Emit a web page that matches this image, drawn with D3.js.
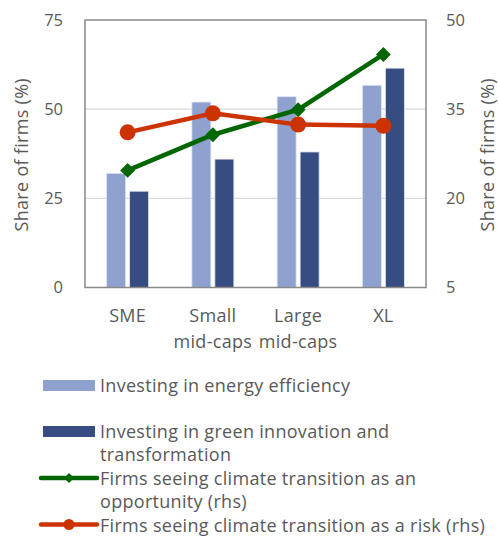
<!DOCTYPE html>
<html><head><meta charset="utf-8">
<script src="https://cdn.jsdelivr.net/npm/d3@7"></script>
<style>body{margin:0;background:#fff}svg{display:block}text{font-family:"Open Sans",sans-serif;fill:#595959}</style>
</head><body>
<svg id="c" width="499" height="540"></svg>
<script>
const categories = [["SME"],["Small","mid-caps"],["Large","mid-caps"],["XL"]];
const energyEfficiency = [32, 52, 53.5, 56.7];
const greenInnovation = [27, 36, 38, 61.5];
const opportunity = [24.7, 30.7, 34.9, 44.2];
const risk = [31.1, 34.3, 32.4, 32.2];
const leftTicks = [0, 25, 50, 75];
const rightTicks = [5, 20, 35, 50];
const seriesNames = ["Investing in energy efficiency", ["Investing in green innovation and","transformation"], ["Firms seeing climate transition as an","opportunity (rhs)"], "Firms seeing climate transition as a risk (rhs)"];

const cLight = "#8fa2cf", cDark = "#374c80", cGreen = "#006600", cRed = "#cc3300";
const svg = d3.select("#c");
const L = 85, R = 426, T = 20, B = 287.5;
const x = d3.scaleBand().domain(d3.range(4)).range([L, R]);
const yl = d3.scaleLinear().domain([0, 75]).range([B, T]);
const yr = d3.scaleLinear().domain([5, 50]).range([B, T]);

svg.append("g").selectAll("line").data([25, 50]).join("line")
  .attr("x1", L).attr("x2", R).attr("y1", d => yl(d)).attr("y2", d => yl(d))
  .attr("stroke", "#d9d9d9").attr("stroke-width", 1.2);

const bw = 19, gap = 4;
const bars = svg.append("g");
bars.selectAll(".b1").data(energyEfficiency).join("rect")
  .attr("x", (d, i) => x(i) + x.bandwidth() / 2 - gap / 2 - bw)
  .attr("y", d => yl(d)).attr("width", bw).attr("height", d => B - yl(d))
  .attr("fill", cLight).attr("stroke", "#dfe5f2").attr("stroke-width", 0.8);
bars.selectAll(".b2").data(greenInnovation).join("rect")
  .attr("x", (d, i) => x(i) + x.bandwidth() / 2 + gap / 2)
  .attr("y", d => yl(d)).attr("width", bw).attr("height", d => B - yl(d))
  .attr("fill", cDark).attr("stroke", "#dfe5f2").attr("stroke-width", 0.8);

svg.append("rect").attr("x", L).attr("y", T).attr("width", R - L).attr("height", B - T)
  .attr("fill", "none").attr("stroke", "#898989").attr("stroke-width", 1.5);

const cx = i => x(i) + x.bandwidth() / 2;
const lineR = d3.line().x((d, i) => cx(i)).y(d => yr(d));
svg.append("path").datum(opportunity).attr("d", lineR).attr("fill", "none").attr("stroke", cGreen).attr("stroke-width", 4.5);
svg.append("g").selectAll("path").data(opportunity).join("path")
  .attr("d", d3.symbol(d3.symbolSquare, 110)())
  .attr("transform", (d, i) => `translate(${cx(i)},${yr(d)}) rotate(45)`).attr("fill", cGreen);
svg.append("path").datum(risk).attr("d", lineR).attr("fill", "none").attr("stroke", cRed).attr("stroke-width", 4.5);
svg.append("g").selectAll("circle").data(risk).join("circle")
  .attr("cx", (d, i) => cx(i)).attr("cy", d => yr(d)).attr("r", 8).attr("fill", cRed);

const fs = 16.5, fl = 18, ls = "0.3px";
svg.append("g").selectAll("text").data(leftTicks).join("text")
  .attr("x", 63).attr("y", d => yl(d)).attr("dy", "0.36em").attr("text-anchor", "end")
  .attr("font-size", fs).text(d => d);
svg.append("g").selectAll("text").data(rightTicks).join("text")
  .attr("x", 446).attr("y", d => yr(d)).attr("dy", "0.36em").attr("text-anchor", "start")
  .attr("font-size", fs).text(d => d);
svg.append("text").attr("transform", `translate(28,${(T + B) / 2 + 1}) rotate(-90)`)
  .attr("text-anchor", "middle").attr("font-size", fl).attr("letter-spacing", ls).text("Share of firms (%)");
svg.append("text").attr("transform", `translate(494,${(T + B) / 2 + 1}) rotate(-90)`)
  .attr("text-anchor", "middle").attr("font-size", fl).attr("letter-spacing", ls).text("Share of firms (%)");

const cat = svg.append("g").selectAll("text").data(categories).join("text")
  .attr("text-anchor", "middle").attr("font-size", fl).attr("letter-spacing", ls);
cat.selectAll("tspan").data((d, i) => d.map(s => ({ s, i }))).join("tspan")
  .attr("x", d => cx(d.i)).attr("y", (d, j) => 322 + j * 25.5).text(d => d.s);

const lg = svg.append("g");
const lx = 43, tx = 100;
lg.append("rect").attr("x", lx).attr("y", 380).attr("width", 52).attr("height", 11).attr("fill", cLight);
lg.append("rect").attr("x", lx).attr("y", 426).attr("width", 52).attr("height", 11).attr("fill", cDark);
lg.append("line").attr("x1", lx - 2).attr("x2", 97).attr("y1", 478).attr("y2", 478).attr("stroke", cGreen).attr("stroke-width", 4.5).attr("stroke-linecap", "round");
lg.append("path").attr("d", d3.symbol(d3.symbolSquare, 50)()).attr("transform", "translate(69,478) rotate(45)").attr("fill", cGreen);
lg.append("line").attr("x1", lx - 2).attr("x2", 97).attr("y1", 524.5).attr("y2", 524.5).attr("stroke", cRed).attr("stroke-width", 4.5).attr("stroke-linecap", "round");
lg.append("circle").attr("cx", 69).attr("cy", 524.5).attr("r", 5.5).attr("fill", cRed);
const legY = [385.5, 431.5, 478.5, 525.5];
const legStep = [25, 23.5, 23.5, 25];
seriesNames.forEach((n, i) => {
  const lines = Array.isArray(n) ? n : [n];
  const t = lg.append("text").attr("font-size", fl).attr("letter-spacing", ls);
  lines.forEach((s, j) => t.append("tspan").attr("x", tx).attr("y", legY[i] + j * legStep[i]).attr("dy", "0.36em").text(s));
});
</script>
</body></html>
